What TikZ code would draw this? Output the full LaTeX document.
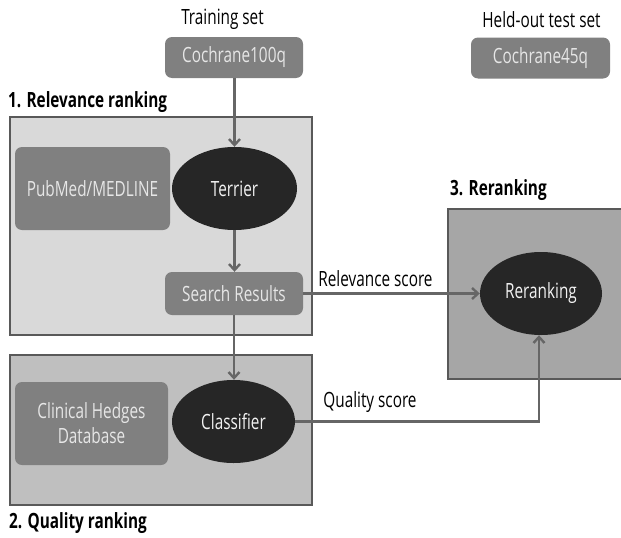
\documentclass[tikz,border=0pt]{standalone}
\usepackage{fontspec}
\setmainfont[FakeStretch=0.73]{Open Sans}
\usetikzlibrary{arrows.meta,shapes.geometric}
\definecolor{nodeg}{HTML}{808080}
\definecolor{ellk}{HTML}{262626}
\definecolor{relf}{HTML}{D9D9D9}
\definecolor{qualf}{HTML}{BFBFBF}
\definecolor{rerf}{HTML}{A6A6A6}
\definecolor{bord}{HTML}{595959}
\definecolor{arrc}{HTML}{666666}
\definecolor{ltxt}{HTML}{E6E6E6}
\definecolor{wtxt}{HTML}{F2F2F2}
\begin{document}
\begin{tikzpicture}[x=1pt,y=-1pt,
  txt/.style={font=\fontsize{21}{25}\selectfont, text=black, inner sep=0pt},
  heading/.style={font=\fontsize{21}{25}\selectfont\bfseries, text=black, inner sep=0pt},
  gbox/.style={rectangle, rounded corners=7pt, fill=nodeg, text=ltxt, align=center,
    font=\fontsize{21}{25}\selectfont, inner sep=0pt},
  ell/.style={ellipse, fill=ellk, text=wtxt, inner sep=0pt,
    font=\fontsize{21}{25}\selectfont},
  panel/.style={rectangle, draw=bord, line width=2pt, inner sep=0pt},
  arr/.style={draw=arrc, line width=2.4pt, -{Straight Barb[length=6pt,width=11pt]}}
]
\useasboundingbox (0,0) rectangle (621,538);

% panels
\node[panel, fill=relf, minimum width=302pt, minimum height=218pt] (relbox) at (161,226) {};
\node[panel, fill=qualf, minimum width=302pt, minimum height=150pt] (qualbox) at (161,430) {};
\node[panel, fill=rerf, minimum width=176pt, minimum height=170pt] (rerbox) at (536,294) {};

% headings
\node[heading, anchor=west] (h1) at (8,102) {1. Relevance ranking};
\node[heading, anchor=west] (h2) at (9,523) {2. Quality ranking};
\node[heading, anchor=west] (h3) at (450,190) {3. Reranking};

% top
\node[txt] (train) at (222.5,19) {Training set};
\node[txt] (held) at (541.5,20) {Held-out test set};
\node[gbox, minimum width=138pt, minimum height=41pt] (c100) at (234,57.5) {Cochrane100q};
\node[gbox, minimum width=139pt, minimum height=41pt] (c45) at (540.5,58) {Cochrane45q};

% relevance
\node[gbox, minimum width=155pt, minimum height=83pt] (pub) at (92.5,188.5) {PubMed/MEDLINE};
\node[ell, minimum width=125pt, minimum height=83pt] (terrier) at (234.5,188.5) {Terrier};
\node[gbox, minimum width=138pt, minimum height=43pt] (search) at (234,293.5) {Search Results};

% quality
\node[gbox, minimum width=153pt, minimum height=83pt] (hedges) at (91.5,423.5) {Clinical Hedges\\Database};
\node[ell, minimum width=123pt, minimum height=83pt] (classif) at (233.5,421.5) {Classifier};

% reranking
\node[ell, minimum width=122pt, minimum height=83pt] (rerank) at (541,293.5) {Reranking};

% connectors
\draw[arr] (c100.south -| terrier.north) -- (terrier.north);
\draw[arr] (terrier.south) -- (search.north -| terrier.south);
\draw[arr] (search.south) -- (classif.north -| search.south);
\draw[arr] (search.east) -- (rerank.west);
\node[txt] (rellab) at (375.5,279) {Relevance score};
\coordinate (qcorner) at (539,423);
\draw[arr] (classif.east) -- (classif.east -| qcorner) -- (rerank.south -| qcorner);
\node[txt] (qlab) at (370,402) {Quality score};
\end{tikzpicture}
\end{document}
